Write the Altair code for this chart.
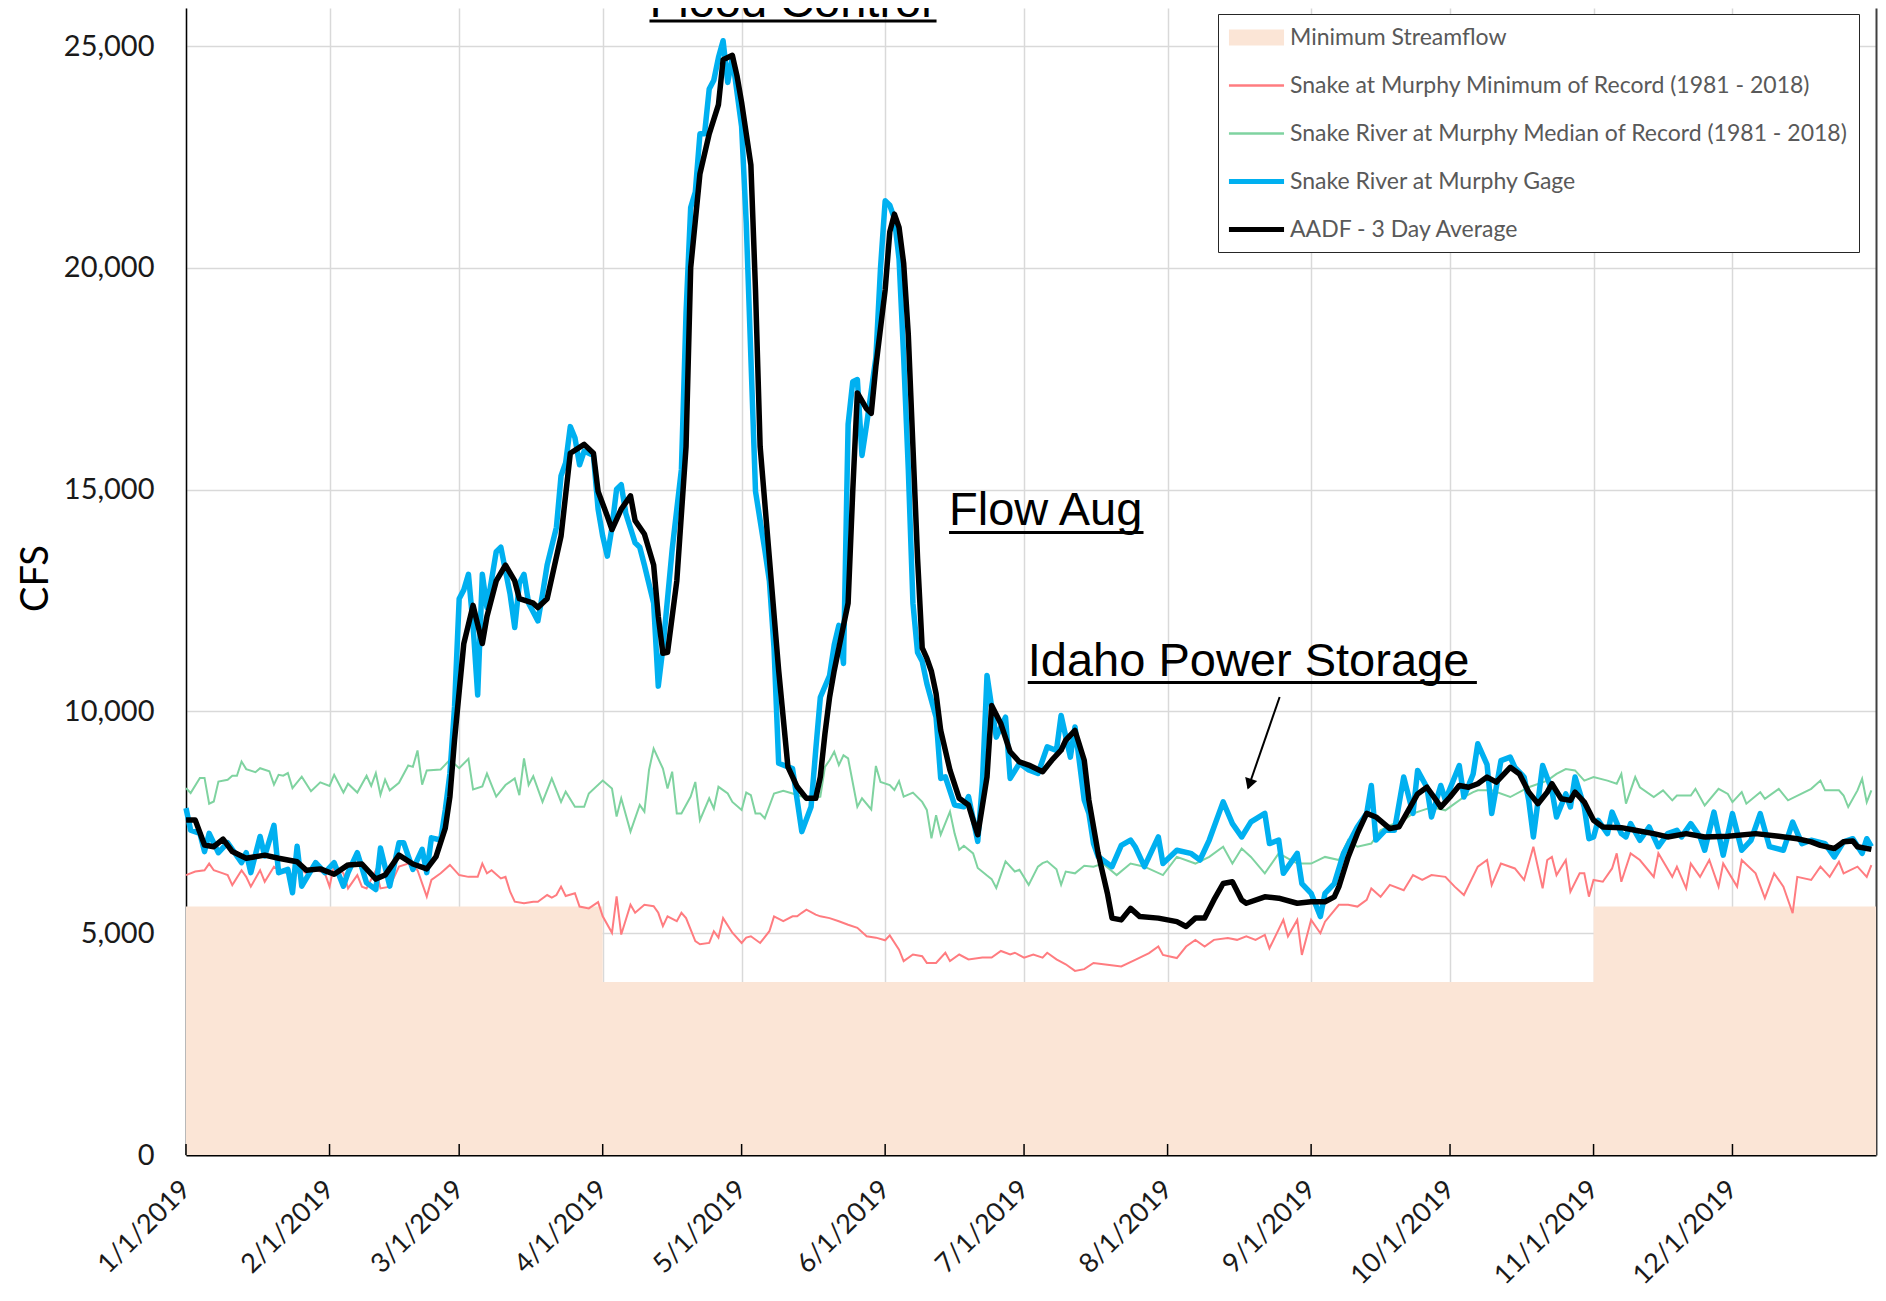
import altair as alt
import pandas as pd

# ---------------- series names / colours ----------------
SERIES = [
    "Minimum Streamflow",
    "Snake at Murphy Minimum of Record (1981 - 2018)",
    "Snake River at Murphy Median of Record (1981 - 2018)",
    "Snake River at Murphy Gage",
    "AADF - 3 Day Average",
]
COLORS = ["#FBE5D6", "#FF7C80", "#7FD3A0", "#00B0F0", "#000000"]
LEGEND_SHAPES = [
    "M-2.04,-0.59H2.04V0.59H-2.04Z",
    "M-2.04,-0.09H2.04V0.09H-2.04Z",
    "M-2.04,-0.09H2.04V0.09H-2.04Z",
    "M-2.04,-0.19H2.04V0.19H-2.04Z",
    "M-2.04,-0.19H2.04V0.19H-2.04Z",
]

# x axis: day of year counted from 1/1/2019
TICK_DAYS = [0, 31, 59, 90, 120, 151, 181, 212, 243, 273, 304, 334]
TICK_LABELS = ["1/1/2019", "2/1/2019", "3/1/2019", "4/1/2019", "5/1/2019", "6/1/2019",
               "7/1/2019", "8/1/2019", "9/1/2019", "10/1/2019", "11/1/2019", "12/1/2019"]
Y_TICKS = [0, 5000, 10000, 15000, 20000, 25000]

# ---------------- data (day of year, cfs) ----------------
MIN_STREAMFLOW = [(0, 5600), (90, 3900), (304, 5600), (365, 5600)]

GAGE = [(0,7820),(1,7325),(3,7250),(4,6840),(5,7250),(7,6815),(9,7040),(12,6590),(13,6815),(14,6365),
(16,7180),(17,6740),(19,7430),(20,6365),(22,6440),(23,5910),(24,6960),(25,6060),(28,6590),(30,6365),
(32,6590),(34,6060),(35,6365),(37,6815),(39,6135),(41,5985),(42,6920),(44,6060),(46,7040),(47,7040),
(49,6440),(50,6665),(51,6890),(52,6365),(53,7150),(55,7100),(56,7780),(57,8600),(58,10100),(59,12540),
(60,12740),(61,13090),(62,11940),(63,10370),(64,13090),(65,12340),(67,13600),(68,13700),(70,12640),(71,11890),
(72,12890),(73,13090),(74,12440),(76,12040),(77,12640),(78,13300),(80,14150),(81,15310),(82,15610),(83,16420),
(84,16170),(85,15560),(86,15870),(88,15770),(89,14560),(90,13950),(91,13500),(92,14150),(93,15010),(94,15110),
(95,14460),(97,13800),(98,13700),(99,13300),(101,12440),(102,10570),(103,11430),(105,13650),(107,15460),(108,18990),
(109,21360),(110,21710),(111,23020),(112,23020),(113,24030),(114,24230),(115,24740),(116,25120),(117,24180),(118,24740),
(120,23180),(121,21010),(122,17980),(123,14960),(125,13650),(126,12940),(127,11430),(128,8830),(131,8710),(132,8000),
(133,7290),(135,7850),(136,9120),(137,10320),(139,10810),(140,11500),(141,11940),(142,11080),(143,16470),(144,17430),
(145,17480),(146,15770),(147,16470),(149,17980),(150,20000),(151,21510),(152,21410),(153,21110),(154,20200),(155,17980),
(156,15460),(157,12440),(158,11330),(159,11130),(160,10630),(162,9870),(163,8490),(164,8525),(166,7890),(168,7850),
(169,8080),(171,7070),(172,8380),(173,10810),(174,10100),(175,9420),(177,9870),(178,8490),(180,8830),(182,8680),
(184,8600),(186,9200),(188,9120),(189,9910),(191,8970),(192,9650),(194,8000),(195,7700),(196,7020),(197,6730),
(198,6650),(200,6500),(202,6980),(204,7100),(205,6950),(207,6500),(210,7170),(211,6570),(214,6870),(217,6800),
(219,6650),(221,7100),(224,7960),(226,7470),(228,7170),(230,7510),(233,7700),(234,7020),(236,7100),(237,6350),
(240,6800),(241,6120),(243,5900),(245,5375),(246,5900),(248,6120),(250,6800),(253,7400),(255,7700),(256,8330),
(257,7100),(259,7320),(261,7320),(263,8520),(265,7700),(266,8670),(268,8290),(269,7620),(271,8330),(272,8000),
(275,8780),(276,8070),(278,8590),(279,9270),(281,8800),(282,7700),(284,8890),(286,8970),(287,8740),(289,8520),
(290,7995),(291,7170),(293,8780),(295,8220),(296,7620),(298,8140),(299,7845),(300,8520),(302,7845),(303,7130),
(304,7170),(305,7545),(307,7245),(308,7730),(310,7245),(311,7170),(312,7470),(314,7095),(316,7395),(317,7170),
(318,6950),(320,7245),(322,7320),(323,7170),(325,7470),(327,7170),(328,6870),(330,7730),(332,6760),(334,7695),
(336,6870),(338,7095),(340,7695),(342,6950),(345,6870),(347,7505),(349,7020),(351,7095),(354,7020),(356,6720),
(358,7060),(360,7130),(362,6800),(363,7130),(364,6950)]

AADF = [(0,7550),(2,7550),(4,6990),(6,6950),(8,7120),(10,6840),(13,6690),(17,6760),(20,6690),(24,6610),
(26,6420),(29,6450),(32,6330),(35,6540),(38,6560),(41,6220),(43,6310),(46,6760),(49,6560),(52,6450),
(54,6725),(56,7370),(57,8080),(58,9360),(60,11530),(62,12390),(64,11530),(65,12140),(67,12940),(69,13300),
(71,12940),(72,12540),(75,12440),(76,12340),(78,12540),(81,13950),(83,15820),(86,16020),(88,15820),(89,14960),
(91,14400),(92,14100),(94,14560),(96,14860),(97,14300),(99,14000),(101,13300),(102,12140),(103,11310),(104,11330),
(106,12940),(108,15970),(109,20000),(111,22120),(113,23020),(115,23680),(116,24690),(118,24790),(119,24330),(120,23730),
(122,22320),(123,19500),(124,15970),(126,13450),(128,10930),(130,8750),(132,8300),(134,8040),(136,8040),(137,8525),
(138,9500),(139,10320),(140,10920),(141,11430),(143,12440),(144,14960),(145,17180),(147,16820),(148,16720),(149,17780),
(151,19500),(152,20810),(153,21210),(154,20910),(155,20100),(156,18490),(157,15970),(158,13450),(159,11430),(160,11200),
(161,10900),(162,10400),(163,9570),(165,8675),(167,8040),(169,7890),(170,7550),(171,7220),(173,8525),(174,10135),
(176,9720),(178,9090),(180,8860),(182,8790),(185,8640),(187,8900),(189,9125),(190,9350),(192,9570),(194,8900),
(195,8000),(197,6800),(199,5900),(200,5340),(202,5300),(204,5560),(206,5375),(210,5340),(212,5300),(214,5260),
(216,5150),(218,5340),(220,5340),(222,5750),(224,6120),(226,6160),(228,5750),(229,5675),(233,5820),(236,5790),
(240,5675),(243,5710),(246,5710),(248,5820),(249,6050),(251,6720),(253,7250),(255,7700),(257,7620),(260,7360),
(262,7400),(264,7770),(266,8140),(268,8290),(270,8000),(271,7840),(273,8070),(275,8330),(277,8290),(279,8370),
(281,8520),(283,8405),(286,8740),(288,8590),(290,8180),(292,7920),(294,8180),(295,8370),(297,8030),(299,7995),
(300,8180),(302,7955),(304,7545),(306,7395),(310,7380),(313,7320),(317,7245),(320,7170),(324,7245),(328,7170),
(333,7185),(339,7245),(344,7185),(348,7130),(351,7060),(353,6980),(356,6910),(358,7060),(360,7080),(361,6950),
(364,6890)]

MEDIAN = [(0,8270),(1,8160),(3,8500),(4,8500),(5,7920),(6,7970),(7,8420),(9,8460),(10,8550),(11,8550),
(12,8870),(13,8700),(15,8630),(16,8720),(18,8650),(19,8350),(20,8570),(21,8550),(22,8610),(23,8270),
(25,8530),(27,8200),(29,8400),(31,8320),(32,8570),(34,8170),(35,8370),(37,8170),(39,8550),(40,8320),
(41,8610),(42,8120),(43,8460),(44,8220),(46,8390),(48,8780),(49,8750),(50,9120),(51,8350),(52,8670),
(55,8690),(56,8800),(57,8910),(59,8720),(61,8930),(62,8240),(64,8310),(65,8600),(67,8080),(69,8340),
(71,8490),(72,8110),(73,8940),(74,8340),(75,8540),(77,7960),(79,8490),(81,7960),(82,8190),(84,7850),
(86,7850),(87,8150),(90,8440),(92,8260),(93,7630),(94,8040),(96,7290),(98,7890),(99,7740),(100,8680),
(101,9160),(103,8710),(104,8260),(105,8640),(106,7700),(107,7700),(109,8080),(110,8410),(111,7550),(113,8040),
(114,7810),(115,8300),(117,8150),(118,7960),(120,7780),(121,8170),(122,8110),(123,7700),(124,7700),(125,7590),
(127,8150),(129,8210),(131,8150),(133,8080),(134,8000),(137,8080),(138,8750),(139,8900),(140,9090),(141,8790),
(142,9010),(143,8940),(145,7850),(146,8040),(148,7790),(149,8770),(150,8410),(152,8340),(153,8230),(154,8430),
(155,8080),(157,8170),(159,7960),(160,7780),(161,7140),(162,7660),(163,7220),(165,7740),(166,7250),(167,6880),
(168,6970),(170,6800),(171,6470),(173,6300),(174,6220),(175,6020),(177,6620),(179,6390),(180,6430),(182,6090),
(184,6500),(185,6580),(186,6620),(188,6440),(189,6090),(190,6390),(192,6350),(194,6520),(196,6500),(198,6570),
(201,6310),(204,6570),(207,6500),(211,6310),(214,6720),(218,6570),(221,6720),(224,6950),(226,6570),(228,6910),
(230,6720),(233,6350),(236,6800),(240,6570),(243,6570),(246,6720),(249,6650),(251,7100),(253,6950),(256,7020),
(258,7320),(260,7430),(263,7550),(265,7700),(267,7770),(269,7840),(272,7770),(274,7920),(276,8070),(278,8180),
(279,8220),(282,8220),(286,8070),(290,8290),(294,8440),(296,8590),(298,8700),(300,8670),(302,8440),(304,8520),
(307,8440),(309,8370),(310,8590),(311,7920),(313,8520),(314,8290),(317,8070),(319,8220),(321,7995),(322,8105),
(325,8105),(326,8255),(328,7880),(331,8255),(333,8140),(334,7955),(336,8180),(337,7920),(340,8180),(341,8030),
(344,8255),(346,7995),(351,8255),(353,8440),(354,8220),(357,8220),(358,8105),(359,7845),(361,8220),(362,8480),
(363,7955),(364,8220)]

MINIMUM_RECORD = [(0,6310),(2,6390),(4,6420),(5,6570),(6,6420),(8,6350),(9,6310),(10,6085),(12,6420),(13,6270),
(14,6050),(16,6420),(17,6160),(19,6500),(20,6420),(22,6350),(23,6310),(25,6420),(26,6350),(28,6420),
(29,6390),(30,6350),(31,6050),(32,6540),(34,6350),(35,6010),(37,6310),(38,6050),(39,6010),(41,6420),
(42,6010),(44,6050),(46,6500),(48,6570),(50,6420),(52,5825),(53,6200),(55,6350),(57,6540),(59,6310),
(61,6270),(63,6270),(64,6570),(65,6350),(66,6420),(68,6235),(69,6270),(70,5935),(71,5710),(73,5675),
(75,5710),(76,5710),(78,5860),(79,5800),(80,5860),(81,6050),(82,5840),(84,5900),(85,5600),(87,5560),
(89,5700),(90,5380),(92,5010),(93,5830),(94,4970),(96,5640),(97,5460),(99,5640),(101,5610),(102,5460),
(103,5160),(104,5380),(106,5270),(107,5460),(108,5340),(110,4820),(111,4750),(113,4780),(114,5045),(115,4900),
(116,5340),(118,5010),(120,4780),(121,4900),(122,4930),(124,4780),(126,5045),(127,5380),(129,5270),(131,5380),
(132,5380),(133,5460),(134,5530),(136,5420),(137,5380),(139,5340),(141,5270),(143,5190),(145,5120),(147,4930),
(149,4900),(151,4840),(152,4950),(154,4630),(155,4370),(157,4520),(159,4480),(160,4330),(162,4330),(164,4560),
(165,4370),(167,4520),(169,4410),(172,4450),(174,4450),(176,4600),(178,4520),(179,4560),(181,4450),(183,4520),
(185,4450),(186,4560),(188,4410),(190,4300),(192,4150),(194,4190),(196,4330),(199,4290),(202,4250),(205,4400),
(208,4550),(210,4700),(211,4510),(214,4440),(216,4700),(218,4850),(220,4700),(222,4850),(225,4890),(227,4850),
(229,4930),(231,4850),(233,4960),(234,4660),(237,5300),(238,4930),(240,5300),(241,4510),(243,5300),(245,5000),
(246,5260),(249,5640),(251,5640),(253,5600),(255,5750),(256,6010),(258,5820),(260,6090),(263,5970),(265,6310),
(267,6200),(269,6310),(272,6270),(274,6050),(276,5860),(279,6500),(281,6650),(282,6085),(284,6570),(287,6460),
(289,6200),(291,6950),(293,6010),(294,6650),(295,6720),(296,6310),(298,6650),(299,5935),(301,6350),(302,6350),
(303,5825),(304,6200),(306,6160),(308,6460),(309,6800),(310,6160),(312,6800),(314,6650),(317,6270),(318,6800),
(321,6270),(322,6500),(324,6010),(325,6570),(327,6270),(329,6650),(331,6050),(332,6570),(335,6050),(336,6650),
(339,6350),(341,5790),(343,6350),(345,6050),(347,5450),(348,6270),(351,6200),(353,6500),(355,6270),(357,6610),
(358,6350),(361,6500),(363,6270),(364,6535)]

# annotations (day of year, cfs)
ANN_TEXT = ["Flood Control", "Flow Aug", "Idaho Power Storage"]
ANN_DAY = [100.1, 164.8, 181.8]
ANN_CFS = [25654, 14206, 10798]
UL_END_DAY = [162.1, 206.8, 278.8]
UL_CFS = [25563, 14035, 10652]
ARROW_FROM = (236.2, 10325)
ARROW_TO = (229.4, 8273)
ARROW_HEAD = (229.8, 8397)


# ---------------- helpers ----------------
def frame(pairs):
    return pd.DataFrame({"day": [d for d, _ in pairs], "cfs": [v for _, v in pairs]})


x_scale = alt.Scale(domain=[0, 365], nice=False, zero=False)
y_scale = alt.Scale(domain=[0, 25857], nice=False)

label_expr = ("[" + ",".join("'%s'" % s for s in TICK_LABELS) + "]"
              "[indexof([" + ",".join(str(d) for d in TICK_DAYS) + "], datum.value)]")

x_axis = alt.Axis(
    values=TICK_DAYS, labelExpr=label_expr,
    labelAngle=-45, labelAlign="right", labelBaseline="middle",
    labelPadding=30, labelFont="Lato", labelFontSize=27, labelColor="#1A1A1A",
    labelOverlap=False, labelFlush=False, ticks=False, tickSize=0,
    domainColor="#000000", domainWidth=2, grid=True, gridColor="#D9D9D9",
    gridWidth=1.5, title=None,
)
y_axis = alt.Axis(
    values=Y_TICKS, format=",d",
    labelFont="Lato", labelFontSize=29, labelColor="#1A1A1A", labelPadding=32,
    ticks=False, tickSize=0, domainColor="#000000", domainWidth=1.5,
    grid=True, gridColor="#D9D9D9", gridWidth=1.5,
    title="CFS", titleFont="Lato", titleFontSize=38, titleFontWeight="normal",
    titleColor="#000000", titleAngle=270, titleX=-150, titleY=570,
    titleAlign="center", titleBaseline="middle",
)
right_axis = alt.Axis(orient="right", labels=False, ticks=False, grid=False,
                      domainColor="#404040", domainWidth=2, title=None)

legend = alt.Legend(
    orient="none", legendX=1032, legendY=6, title=None,
    symbolSize=729, symbolOffset=15, labelOffset=20, rowPadding=22, padding=10,
    strokeColor="#262626", fillColor="#FFFFFF", labelFont="Lato", labelFontSize=23,
    labelColor="#595959", labelLimit=900, symbolStrokeWidth=0,
)


def X(field="day:Q"):
    return alt.X(field, scale=x_scale, axis=x_axis)


def Y(field="cfs:Q", axis=None):
    return alt.Y(field, scale=y_scale, axis=axis)


area = alt.Chart(frame(MIN_STREAMFLOW)).mark_area(
    interpolate="step-after", opacity=1, color=COLORS[0]
).encode(x=X(), y=Y(axis=y_axis))

red = alt.Chart(frame(MINIMUM_RECORD)).mark_line(strokeWidth=2, color=COLORS[1]).encode(
    x=X(), y=Y())
green = alt.Chart(frame(MEDIAN)).mark_line(strokeWidth=2, color=COLORS[2]).encode(
    x=X(), y=Y())
blue = alt.Chart(frame(GAGE)).mark_line(strokeWidth=5.5, strokeJoin="round", color=COLORS[3]).encode(
    x=X(), y=Y())
black = alt.Chart(frame(AADF)).mark_line(strokeWidth=5.5, strokeJoin="round", color=COLORS[4]).encode(
    x=X(), y=Y(axis=right_axis))

ticks_df = pd.DataFrame({"day": TICK_DAYS})
tick_marks = alt.Chart(ticks_df).mark_rule(color="#000000", strokeWidth=1.5).encode(
    x=X(), y=alt.value(1147), y2=alt.value(1136))

ann_df = pd.DataFrame({"label": ANN_TEXT, "day": ANN_DAY, "cfs": ANN_CFS})
ann_text = alt.Chart(ann_df).mark_text(
    align="left", baseline="alphabetic", font="Liberation Sans", fontSize=47, color="#000000"
).encode(x=X(), y=Y(), text="label:N")

ul_df = pd.DataFrame({"day": ANN_DAY, "end": UL_END_DAY, "cfs": UL_CFS})
underline = alt.Chart(ul_df).mark_rule(color="#000000", strokeWidth=3).encode(
    x=X(), x2="end:Q", y=Y())

arrow_df = pd.DataFrame({"day": [ARROW_FROM[0]], "end": [ARROW_TO[0]],
                         "cfs": [ARROW_FROM[1]], "cfs2": [ARROW_TO[1]]})
arrow = alt.Chart(arrow_df).mark_rule(color="#000000", strokeWidth=2).encode(
    x=X(), x2="end:Q", y=Y(), y2="cfs2:Q")
head_df = pd.DataFrame({"day": [ARROW_HEAD[0]], "cfs": [ARROW_HEAD[1]]})
arrow_head = alt.Chart(head_df).mark_point(
    shape="triangle", filled=True, size=160, angle=199, color="#000000", opacity=1
).encode(x=X(), y=Y())

legend_df = pd.DataFrame({"day": pd.Series([], dtype=float), "cfs": pd.Series([], dtype=float),
                          "series": pd.Series([], dtype=str)})
legend_layer = alt.Chart(legend_df).mark_point(filled=True, opacity=1, size=729).encode(
    x=X(), y=Y(),
    color=alt.Color("series:N", scale=alt.Scale(domain=SERIES, range=COLORS), legend=legend),
    shape=alt.Shape("series:N", scale=alt.Scale(domain=SERIES, range=LEGEND_SHAPES), legend=legend),
)

chart = alt.layer(
    area, red, green, blue, black, tick_marks, underline, ann_text, arrow, arrow_head, legend_layer
).resolve_axis(y="independent").properties(
    width=1690, height=1147,
    autosize=alt.AutoSizeParams(type="none"),
    padding={"left": 178, "top": 0, "right": 2, "bottom": 136},
    background="#FFFFFF",
).configure_view(stroke=None)

chart.save("out.html", embed_options={"renderer": "svg", "actions": False})
